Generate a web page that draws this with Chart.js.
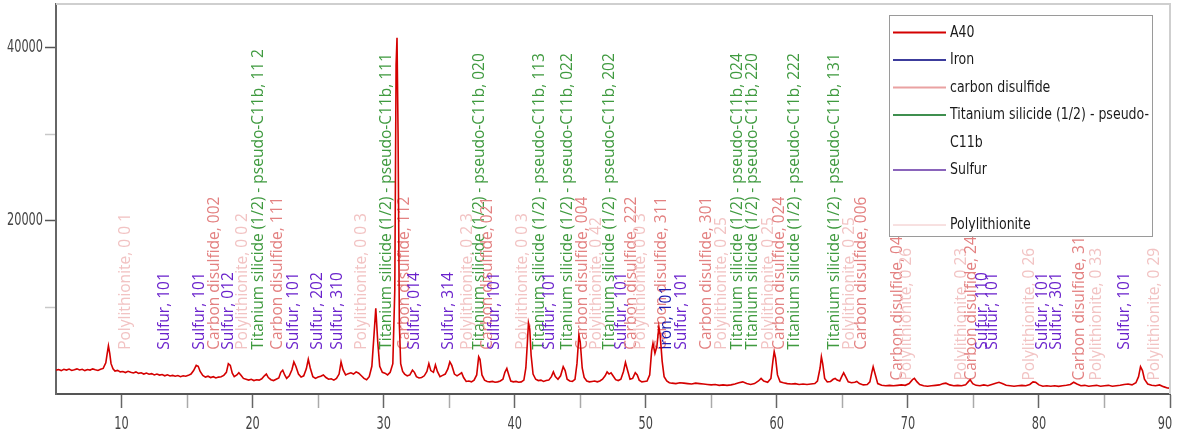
<!DOCTYPE html>
<html><head><meta charset="utf-8">
<script src="https://cdn.jsdelivr.net/npm/chart.js@4.4.1/dist/chart.umd.min.js"></script>
<style>html,body{margin:0;padding:0;background:#fff;overflow:hidden}</style>
</head><body>
<canvas id="c" width="1180" height="435"></canvas>
<script>
// Measured XRD pattern A40: [2theta, intensity]
const pattern = [
[5.0,2750],[5.2,2820],[5.4,2700],[5.6,2850],[5.8,2760],[6.0,2880],[6.2,2720],[6.4,2800],[6.6,2900],[6.8,2780],
[7.0,2850],[7.2,2700],[7.4,2820],[7.6,2760],[7.8,2900],[8.0,2800],[8.2,2720],[8.4,2850],[8.6,2950],[8.8,3600],
[8.9,4600],[9.0,5550],[9.1,4700],[9.2,3500],[9.35,2900],[9.5,2650],[9.7,2720],[9.9,2550],[10.1,2600],[10.3,2480],
[10.5,2620],[10.7,2500],[10.9,2420],[11.1,2550],[11.3,2380],[11.5,2450],[11.7,2300],[11.9,2420],[12.1,2280],[12.3,2350],
[12.5,2200],[12.7,2300],[12.9,2180],[13.1,2250],[13.3,2100],[13.5,2220],[13.7,2080],[13.9,2150],[14.1,2050],[14.3,2130],
[14.5,2000],[14.7,2100],[14.9,2050],[15.1,2150],[15.3,2300],[15.5,2700],[15.7,3300],[15.85,3200],[16.0,2600],[16.2,2150],
[16.4,1950],[16.6,2050],[16.8,1900],[17.0,2000],[17.2,1850],[17.4,1950],[17.6,2000],[17.8,2150],[18.0,2500],[18.15,3500],
[18.3,3300],[18.45,2400],[18.6,2000],[18.8,2200],[18.95,2450],[19.1,2200],[19.3,1800],[19.5,1700],[19.7,1600],[19.9,1700],
[20.1,1550],[20.3,1650],[20.5,1600],[20.7,1750],[20.9,2100],[21.05,2300],[21.2,1900],[21.4,1650],[21.6,1550],[21.8,1700],
[22.0,1850],[22.15,2500],[22.3,2750],[22.45,2200],[22.6,1800],[22.8,2100],[23.0,2800],[23.15,3700],[23.3,3200],[23.5,2300],
[23.7,1950],[23.9,2100],[24.1,2900],[24.25,4000],[24.4,3000],[24.6,2000],[24.8,1800],[25.0,1950],[25.2,2050],[25.4,2200],
[25.6,1900],[25.8,1700],[26.0,1750],[26.2,1600],[26.4,1800],[26.6,2300],[26.75,3700],[26.9,2800],[27.1,2200],[27.3,2350],
[27.5,2450],[27.7,2300],[27.9,2550],[28.1,2400],[28.3,2100],[28.5,1800],[28.7,1650],[28.9,2000],[29.1,3200],[29.25,6500],
[29.4,9900],[29.55,6000],[29.7,3200],[29.9,2500],[30.1,2400],[30.3,2200],[30.5,2500],[30.7,3500],[30.85,12000],[30.95,38000],
[31.02,41100],[31.1,30000],[31.2,8000],[31.3,3500],[31.45,2600],[31.6,2300],[31.8,2100],[32.0,2200],[32.2,2750],[32.35,2500],
[32.5,2000],[32.7,1850],[32.9,1900],[33.1,2100],[33.3,2600],[33.45,3500],[33.6,2700],[33.8,2500],[33.95,3350],[34.1,2600],
[34.3,2000],[34.5,2150],[34.7,2300],[34.9,2900],[35.05,3700],[35.2,3300],[35.4,2300],[35.6,2100],[35.8,2300],[35.95,2450],
[36.1,1900],[36.3,1450],[36.5,1500],[36.7,1400],[36.9,1600],[37.1,2200],[37.25,4300],[37.35,4000],[37.5,2200],[37.7,1600],
[37.9,1450],[38.1,1400],[38.3,1450],[38.5,1350],[38.7,1400],[38.9,1500],[39.1,1700],[39.25,2500],[39.4,2950],[39.55,2200],
[39.7,1500],[39.9,1400],[40.1,1450],[40.3,1350],[40.5,1400],[40.7,1600],[40.85,3000],[40.95,5500],[41.05,8200],[41.15,7500],
[41.25,4500],[41.4,2300],[41.6,1700],[41.8,1550],[42.0,1600],[42.2,1450],[42.4,1550],[42.6,1600],[42.8,2000],[42.95,2550],
[43.1,2000],[43.3,1700],[43.5,2100],[43.7,3150],[43.85,2700],[44.0,1700],[44.2,1500],[44.4,1450],[44.6,1700],[44.75,3500],
[44.9,6800],[45.0,6000],[45.15,3000],[45.3,1900],[45.5,1500],[45.7,1400],[45.9,1450],[46.1,1500],[46.3,1400],[46.5,1500],
[46.7,1700],[46.9,2100],[47.05,2550],[47.2,2300],[47.35,2450],[47.5,2100],[47.7,1650],[47.9,1550],[48.1,1700],[48.3,2600],
[48.45,3650],[48.6,2800],[48.8,1700],[49.0,1800],[49.2,2450],[49.35,2200],[49.5,1600],[49.7,1400],[49.9,1450],[50.1,1500],
[50.3,2200],[50.45,5000],[50.55,5850],[50.7,4700],[50.85,5500],[51.0,7750],[51.1,6800],[51.25,3800],[51.4,2000],[51.6,1500],
[51.8,1300],[52.0,1250],[52.3,1200],[52.6,1300],[52.9,1250],[53.2,1200],[53.5,1150],[53.8,1250],[54.1,1200],[54.4,1150],
[54.7,1100],[55.0,1050],[55.3,1100],[55.6,1000],[55.9,1050],[56.2,1000],[56.5,1050],[56.8,1150],[57.1,1300],[57.4,1400],
[57.7,1200],[58.0,1100],[58.3,1200],[58.6,1500],[58.8,1800],[59.0,1500],[59.3,1350],[59.55,1800],[59.7,3800],[59.8,4900],
[59.9,4200],[60.05,2200],[60.25,1400],[60.5,1300],[60.8,1200],[61.1,1150],[61.4,1200],[61.7,1100],[62.0,1150],[62.3,1100],
[62.6,1150],[62.9,1200],[63.1,1500],[63.3,3000],[63.4,4300],[63.5,3500],[63.65,1800],[63.85,1400],[64.1,1450],[64.3,1700],
[64.45,1800],[64.6,1600],[64.8,1500],[64.95,2000],[65.1,2450],[65.25,2000],[65.45,1400],[65.7,1300],[65.95,1350],[66.1,1450],
[66.3,1200],[66.6,1050],[66.9,1100],[67.1,1400],[67.25,2500],[67.35,3150],[67.5,2300],[67.7,1200],[68.0,1000],[68.3,950],
[68.6,1000],[68.9,950],[69.2,1000],[69.5,1050],[69.8,1000],[70.1,1200],[70.35,1650],[70.5,1800],[70.7,1400],[70.9,1100],
[71.2,950],[71.5,900],[71.8,950],[72.1,1000],[72.4,1050],[72.7,1200],[72.9,1250],[73.2,1050],[73.5,950],[73.8,1000],
[74.1,950],[74.4,1050],[74.6,1400],[74.75,1650],[74.95,1200],[75.2,1000],[75.5,950],[75.8,1050],[76.1,950],[76.4,1100],
[76.7,1250],[76.95,1350],[77.2,1200],[77.5,1000],[77.8,950],[78.1,900],[78.4,950],[78.7,1000],[79.0,950],[79.3,1100],
[79.55,1400],[79.75,1350],[80.0,1050],[80.3,900],[80.6,950],[80.9,900],[81.2,950],[81.5,880],[81.8,950],[82.1,1000],
[82.4,1100],[82.65,1350],[82.9,1150],[83.2,950],[83.5,1000],[83.8,900],[84.1,950],[84.4,1000],[84.7,900],[85.0,950],
[85.3,1000],[85.6,900],[85.9,950],[86.2,1000],[86.5,1100],[86.8,1150],[87.1,1050],[87.4,1300],[87.6,2000],[87.75,3150],
[87.9,2700],[88.05,1700],[88.3,1150],[88.6,1000],[88.9,950],[89.2,1050],[89.5,850],[89.8,700],[90.0,680]
];

// Reference peak labels: [2theta, phase key, hkl]
const refPeaks = [
[10.28,'P','0 0 1'],[13.26,'S','101'],[15.93,'S','101'],[17.08,'C','002'],[18.15,'S','012'],
[19.21,'P','0 0 2'],[20.44,'T','11 2'],[21.89,'C','111'],[23.11,'S','101'],[24.94,'S','202'],
[26.47,'S','310'],[28.30,'P','0 0 3'],[30.21,'T','111'],[31.58,'C','112'],[32.34,'S','014'],
[34.94,'S','314'],[36.39,'P','0 2 3'],[37.30,'T','020'],[37.92,'C','021'],[38.45,'S','101'],
[40.59,'P','0 0 3'],[41.89,'T','113'],[42.65,'S','101'],[44.02,'T','022'],[45.17,'C','004'],
[46.24,'P','0 42'],[47.23,'T','202'],[48.15,'S','101'],[48.91,'C','222'],[49.60,'P','0 0 3'],
[51.21,'C','311'],[51.59,'F','101'],[52.73,'S','101'],[54.63,'C','301'],[55.78,'P','0 25'],
[57.00,'T','024'],[58.15,'T','220'],[59.37,'P','0 25'],[60.21,'C','024'],[61.35,'T','222'],
[64.41,'T','131'],[65.55,'P','0 25'],[66.47,'C','006'],[69.21,'C','040'],[69.90,'P','0 26'],
[74.10,'P','0 23'],[74.86,'C','240'],[75.70,'S','110'],[76.46,'S','101'],[79.29,'P','0 26'],
[80.28,'S','101'],[81.35,'S','301'],[83.11,'C','311'],[84.40,'P','0 33'],[86.54,'S','101'],
[88.83,'P','0 29']
];

const phaseNames = {P:'Polylithionite', S:'Sulfur', C:'Carbon disulfide', T:'Titanium silicide (1/2) - pseudo-C11b', F:'Iron'};
const phaseTextColors = {P:'#f2c3c3', S:'#6a22cc', C:'#e38181', T:'#3f9a3f', F:'#1c1cb0'};

const legendLabels = ['A40','Iron','carbon disulfide','Titanium silicide (1/2) - pseudo-|C11b','Sulfur','','Polylithionite'];
const legendColors = ['#d40000','#3c3c9c','#eaa2a2','#3f8f4f','#8a64bb',null,'#f0c2c2'];

const yTickValues = [10000, 20000, 30000, 40000];
const yTickLabels = [20000, 40000];
const xTickValues = [10,15,20,25,30,35,40,45,50,55,60,65,70,75,80,85,90];
const xTickLabels = [10,20,30,40,50,60,70,80,90];

const NARROW = '"Liberation Sans Narrow","DejaVu Sans Condensed",sans-serif';
const SQUEEZE = 0.74;

function drawSqueezed(ctx, text, x, y, sx){
  ctx.save();
  ctx.translate(x, y);
  ctx.scale(sx, 1);
  ctx.fillText(text, 0, 0);
  ctx.restore();
}

const labelPlugin = {
  id:'refLabels',
  beforeDatasetsDraw(chart){
    const {ctx, scales:{x, y}} = chart;
    ctx.save();
    ctx.font = '15.5px "Open Sans"';
    ctx.textAlign = 'left';
    ctx.textBaseline = 'middle';
    refPeaks.forEach(([pos, ph, hkl]) => {
      const low = pos > 68.5 && ph !== 'S';
      const px = x.getPixelForValue(pos);
      const py = y.getPixelForValue(low ? 1550 : 5100);
      ctx.save();
      ctx.translate(px, py);
      ctx.rotate(-Math.PI/2);
      ctx.fillStyle = phaseTextColors[ph];
      ctx.fillText(phaseNames[ph] + ', ' + hkl, 0, 0);
      ctx.restore();
    });
    ctx.restore();
  },
  afterDraw(chart){
    const {ctx, chartArea:a, scales:{x, y}} = chart;
    ctx.save();
    // frame (top & right)
    ctx.strokeStyle = '#cfcfcf';
    ctx.lineWidth = 2;
    ctx.beginPath();
    ctx.moveTo(a.left, a.top); ctx.lineTo(a.right, a.top); ctx.lineTo(a.right, a.bottom);
    ctx.stroke();
    // tick labels (narrow face)
    ctx.font = '17px ' + NARROW;
    ctx.fillStyle = '#444';
    ctx.textBaseline = 'middle';
    ctx.textAlign = 'right';
    yTickLabels.forEach(v => drawSqueezed(ctx, String(v), a.left - 13, y.getPixelForValue(v), SQUEEZE));
    ctx.textAlign = 'center';
    xTickLabels.forEach(v => {
      let px = x.getPixelForValue(v);
      if (v === 90) px -= 5;
      drawSqueezed(ctx, String(v), px, 425, SQUEEZE);
    });
    // legend
    const bx = 889, by = 15, bw = 263, bh = 221;
    ctx.fillStyle = '#fff';
    ctx.fillRect(bx, by, bw, bh);
    ctx.strokeStyle = '#9a9a9a';
    ctx.lineWidth = 1;
    ctx.strokeRect(bx+0.5, by+0.5, bw, bh);
    ctx.font = '16px ' + NARROW;
    ctx.textBaseline = 'middle';
    ctx.textAlign = 'left';
    const longest = ctx.measureText('Titanium silicide (1/2) - pseudo-').width;
    const sx = Math.min(1, 199 / longest);
    let row = 0;
    legendLabels.forEach((lab, i) => {
      const lines = lab.split('|');
      const yy = 32.5 + row*27.5;
      if (legendColors[i]) {
        ctx.strokeStyle = legendColors[i];
        ctx.lineWidth = (i === 6) ? 1 : 2;
        ctx.beginPath(); ctx.moveTo(893, yy); ctx.lineTo(946, yy); ctx.stroke();
      }
      ctx.fillStyle = '#1a1a1a';
      lines.forEach((ln, k) => drawSqueezed(ctx, ln, 950, 32.5 + (row+k)*27.5, sx));
      row += Math.max(1, lines.length);
    });
    ctx.restore();
  }
};

function build(){
  new Chart(document.getElementById('c'), {
    type:'line',
    data:{datasets:[{
      label:'A40',
      data: pattern.map(([x,y]) => ({x, y})),
      borderColor:'#d40000', borderWidth:1.6, pointRadius:0, tension:0, fill:false
    }]},
    options:{
      responsive:false, animation:false, devicePixelRatio:1,
      layout:{padding:{left:0, right:10, top:4, bottom:0}},
      plugins:{legend:{display:false}, tooltip:{enabled:false}},
      scales:{
        x:{
          type:'linear', min:5, max:90,
          afterFit(s){ s.height = 41; },
          afterBuildTicks(s){ s.ticks = xTickValues.map(v => ({value:v})); },
          ticks:{display:false, autoSkip:false, maxRotation:0},
          grid:{drawOnChartArea:false, drawTicks:true, tickLength:14, tickWidth:1.5,
            tickColor:c => (c.tick && xTickLabels.includes(c.tick.value)) ? '#666' : '#aaa'},
          border:{display:true, color:'#555', width:2}
        },
        y:{
          type:'linear', min:0, max:45000,
          afterFit(s){ s.width = 56; },
          afterBuildTicks(s){ s.ticks = yTickValues.map(v => ({value:v})); },
          ticks:{display:false, autoSkip:false},
          grid:{drawOnChartArea:false, drawTicks:true, tickLength:11, tickWidth:1.5,
            tickColor:c => (c.tick && yTickLabels.includes(c.tick.value)) ? '#555' : '#c8c8c8'},
          border:{display:true, color:'#666', width:2}
        }
      }
    },
    plugins:[labelPlugin]
  });
}
const fontLoads = [document.fonts.load('15.5px "Open Sans"'), document.fonts.load('17px "DejaVu Sans Condensed"')];
Promise.all(fontLoads).then(build, build);
</script>
</body></html>
